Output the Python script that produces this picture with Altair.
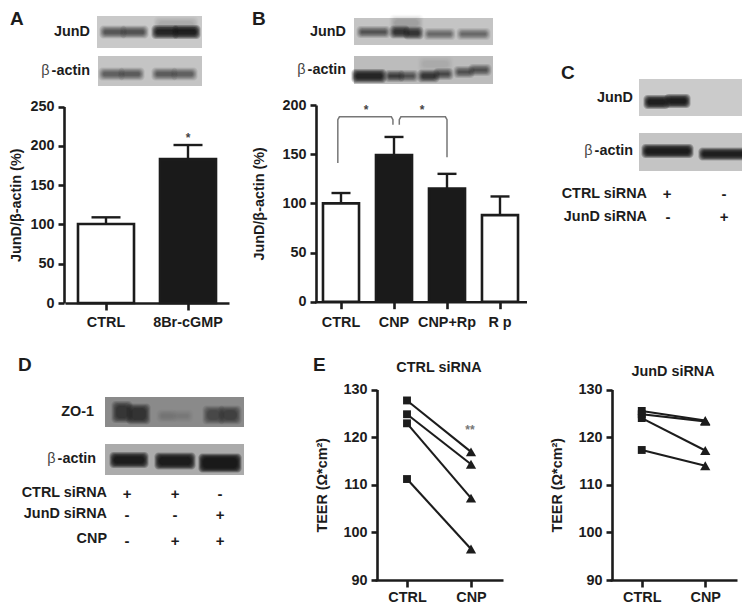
import altair as alt
import pandas as pd

FONT = "Liberation Sans"
INK = "#1c1c1c"
M = 8  # page margin: image pixels -> chart pixels
W, H = 734, 597

# ---------- data ----------
A_CATS = ["CTRL", "8Br-cGMP"]
A_MEAN = [100.5, 183]
A_UPPER = [109, 201]
B_CATS = ["CTRL", "CNP", "CNP+Rp", "R p"]
B_MEAN = [100, 149, 115, 88]
B_UPPER = [110.5, 167.5, 130, 107]
BRACKET_L_X = [0.44, 0.44, 0.47, 1.45, 1.48, 1.48]
BRACKET_L_Y = [141, 185, 188, 188, 185, 180]
BRACKET_R_X = [1.60, 1.60, 1.63, 2.47, 2.50, 2.50]
BRACKET_R_Y = [180, 185, 188, 188, 185, 147]
E_CATS = ["CTRL", "CNP"]
E_CTRL_BEFORE = [127.7, 124.8, 122.9, 111.2]
E_CTRL_AFTER = [116.9, 114.3, 107.2, 96.5]
E_JUND_BEFORE = [125.5, 124.8, 124.0, 117.3]
E_JUND_AFTER = [123.5, 123.3, 117.2, 114.0]

# gel bands: start, end, centre, thickness, density (gel units = lane pixels)
A_JUND = [(6, 26, 16, 6, .62), (27, 48, 16, 6, .64), (58, 78, 16, 7, .86), (79, 100, 16, 7, .90), (60, 98, 9, 10, .12)]
A_ACTIN = [(4, 23, 18, 6, .52), (24, 43, 18, 6, .55), (57, 76, 18, 6, .55), (77, 96, 18, 6, .52)]
B_JUND = [(6, 33, 14, 5, .62), (39, 52, 14, 6, .80), (53, 66, 15, 6, .80), (39, 66, 5, 10, .15), (73, 98, 16, 5, .48), (106, 133, 16, 5, .48)]
B_ACTIN = [(1, 29, 20, 7, .88), (34, 47, 20, 5, .72), (48, 61, 20, 5, .62), (67, 82, 20, 6, .76), (83, 96, 18, 5, .66), (103, 117, 16, 5, .62), (118, 134, 14, 5, .62), (67, 96, 8, 9, .08)]
C_JUND = [(8, 27, 23, 7, .92), (29, 48, 22, 7, .92)]
C_ACTIN = [(6, 51, 18, 7, .94), (63, 105, 21, 6, .92)]
D_ZO1 = [(10, 24, 15, 15, .68), (25, 42, 17, 14, .70), (55, 69, 19, 6, .12), (71, 85, 19, 6, .10), (101, 116, 18, 12, .50), (117, 133, 18, 12, .55)]
D_ACTIN = [(8, 40, 16, 9, .92), (53, 87, 17, 10, .92), (97, 133, 19, 12, .95)]


def text(s, x, y, size=14.4, weight="bold", align="left", color=INK, angle=0, font=FONT):
    return alt.Chart(alt.Data(values=[{"a": 1}])).mark_text(
        font=font, fontSize=size, fontWeight=weight, align=align, baseline="middle",
        color=color, angle=angle,
    ).encode(x=alt.value(x - M), y=alt.value(y - M), text=alt.value(s))


def beta_label(x_right, y):
    return [text("-actin", x_right, y, align="right"),
            text("β", x_right - 40.5, y, align="right", weight="normal", color="#444444")]


def blot(x0, x1, y0, y1, bg, bands):
    w, h = x1 - x0, y1 - y0
    rows = []
    steps = [3.6, 2.8, 2.1, 1.5, 0.9, 0.3, -0.3, -0.9, -1.5]
    for s, e, c, t, d in bands:
        a = 1 - (1 - d) ** (1 / len(steps))
        for g in steps:
            hh = max(t / 2 + g, 0.6)
            rows.append({"x": s - g, "x2": e + g, "y": c - hh, "y2": c + hh, "a": a})
    xs = alt.Scale(domain=[0, w], range=[x0 - M, x1 - M], nice=False, zero=False)
    ys = alt.Scale(domain=[0, h], range=[y0 - M, y1 - M], nice=False, zero=False)
    back = alt.Chart(alt.Data(values=[{"x": 0, "x2": w, "y": 0, "y2": h}])).mark_rect(color=bg).encode(
        x=alt.X("x:Q", scale=xs, axis=None), x2="x2:Q",
        y=alt.Y("y:Q", scale=ys, axis=None), y2="y2:Q")
    ink = alt.Chart(alt.Data(values=rows)).mark_rect(color="#111111", cornerRadius=4).encode(
        x=alt.X("x:Q", scale=xs, axis=None), x2="x2:Q",
        y=alt.Y("y:Q", scale=ys, axis=None), y2="y2:Q",
        opacity=alt.Opacity("a:Q", scale=None))
    return alt.layer(back, ink)


def y_axis(xpx, values, title, title_pad):
    return alt.Axis(orient="left", offset=-(xpx - M), values=values, title=title, grid=False,
                    domainColor=INK, domainWidth=2.6, tickColor=INK, tickWidth=2.6, tickSize=6,
                    labelFont=FONT, labelFontSize=14.4, labelFontWeight="bold", labelColor=INK,
                    labelPadding=4, titleFont=FONT, titleFontSize=14.4, titleFontWeight="bold",
                    titleColor=INK, titlePadding=title_pad)


def x_axis(ypx, label_pad=7):
    return alt.Axis(orient="bottom", offset=ypx - M - H, title=None, grid=False, labelAngle=0,
                    domainColor=INK, domainWidth=2.6, tickColor=INK, tickWidth=2.6, tickSize=7,
                    labelFont=FONT, labelFontSize=14.4, labelFontWeight="bold", labelColor=INK,
                    labelPadding=label_pad, labelOverlap=False)


def bars(cats, mean, upper, fills, xa, xb, ya, yb, top, ticks, xaxis_px, cap, inner, label_pad):
    df = pd.DataFrame({"c": cats, "m": mean, "u": upper, "f": fills})
    xs = alt.Scale(domain=cats, range=[xa - M, xb - M], paddingInner=inner, paddingOuter=inner / 2)
    ys = alt.Scale(domain=[0, top], range=[ya - M, yb - M], nice=False)
    xe = alt.X("c:N", scale=xs, sort=None, axis=x_axis(xaxis_px, label_pad))
    yax = y_axis(ticks[0], ticks[1], "JunD/β-actin (%)", ticks[2])
    stem = alt.Chart(df).mark_rule(color=INK, strokeWidth=2.4).encode(
        x=xe, y=alt.Y("m:Q", scale=ys, axis=yax), y2="u:Q")
    tick = alt.Chart(df).mark_tick(color=INK, size=cap, thickness=2.4, opacity=1).encode(
        x=xe, y=alt.Y("u:Q", scale=ys, axis=yax))
    bar = alt.Chart(df).mark_bar(stroke=INK, strokeWidth=2.6).encode(
        x=xe, y=alt.Y("m:Q", scale=ys, axis=yax),
        fill=alt.Fill("f:N", scale=None))
    return alt.layer(stem, tick, bar)


def teer(before, after, xa, xb, title_pad, xaxis_px=580):
    rows = []
    for i, (p, q) in enumerate(zip(before, after)):
        rows.append({"s": i, "c": E_CATS[0], "v": p})
        rows.append({"s": i, "c": E_CATS[1], "v": q})
    df = pd.DataFrame(rows)
    xs = alt.Scale(type="point", domain=E_CATS, range=[xa - M, xb - M], padding=0.5)
    ys = alt.Scale(domain=[90, 130], range=[580 - M, 389.5 - M], nice=False, zero=False)
    xe = alt.X("c:N", scale=xs, sort=None, axis=x_axis(xaxis_px, 3))
    ye = alt.Y("v:Q", scale=ys, axis=y_axis(xa + 2, [90, 100, 110, 120, 130], "TEER (Ω*cm²)", title_pad))
    line = alt.Chart(df).mark_line(color=INK, strokeWidth=2.1).encode(x=xe, y=ye, detail="s:N")
    sq = alt.Chart(df[df.c == E_CATS[0]]).mark_point(shape="square", filled=True, size=62, color=INK, opacity=1).encode(x=xe, y=ye)
    tri = alt.Chart(df[df.c == E_CATS[1]]).mark_point(shape="triangle-up", filled=True, size=105, color=INK, opacity=1).encode(x=xe, y=ye)
    return alt.layer(line, sq, tri)


def bracket(xvals, yvals):
    df = pd.DataFrame({"x": xvals, "y": yvals, "o": range(len(xvals))})
    return alt.Chart(df).mark_line(color="#777777", strokeWidth=1.5).encode(
        x=alt.X("x:Q", scale=alt.Scale(domain=[0, 4], range=[314.5 - M, 526.5 - M], nice=False, zero=False), axis=None),
        y=alt.Y("y:Q", scale=alt.Scale(domain=[0, 200], range=[301.7 - M, 105 - M], nice=False), axis=None),
        order="o:Q")


def signs(marks, xs, y):
    return [text(m, x, y, align="center", size=15) for m, x in zip(marks, xs)]


layers = [
    blot(97, 202, 16, 48, "#c9c9c9", A_JUND),
    blot(98, 202, 56, 86, "#c4c4c4", A_ACTIN),
    blot(354, 493, 18, 45, "#c4c4c4", B_JUND),
    blot(354, 493, 56, 84, "#bcbcbc", B_ACTIN),
    blot(639, 750, 79, 116, "#cbcbcb", C_JUND),
    blot(639, 750, 133, 171, "#c4c4c4", C_ACTIN),
    blot(105, 244, 397, 427, "#8a8a8a", D_ZO1),
    blot(105, 244, 444, 475, "#ababab", D_ACTIN),
    bars(A_CATS, A_MEAN, A_UPPER, ["white", "#1a1a1a"], 65, 229, 303, 106.5, 250,
         (64, [0, 50, 100, 150, 200, 250], 6), 303, 29, 0.317, 5),
    bars(B_CATS, B_MEAN, B_UPPER, ["white", "#1a1a1a", "#1a1a1a", "white"], 314.5, 526.5, 301.7, 105, 200,
         (316, [0, 50, 100, 150, 200], 15), 301.7, 19, 0.32, 7),
    bracket(BRACKET_L_X, BRACKET_L_Y),
    bracket(BRACKET_R_X, BRACKET_R_Y),
    teer(E_CTRL_BEFORE, E_CTRL_AFTER, 375, 503, 13),
    teer(E_JUND_BEFORE, E_JUND_AFTER, 610, 737, 13),
    text("A", 10, 19, size=19),
    text("B", 252, 19, size=19),
    text("C", 561, 73, size=19),
    text("D", 18, 365, size=19),
    text("E", 313, 365, size=19),
    text("JunD", 90, 32, align="right"),
    *beta_label(90, 71),
    text("JunD", 346, 32, align="right"),
    *beta_label(346, 70),
    text("JunD", 633, 98, align="right"),
    *beta_label(633, 151),
    text("ZO-1", 94, 412, align="right"),
    *beta_label(96, 459),
    text("*", 188, 138, size=12, align="center", color="#444444"),
    text("*", 366, 110, size=12, align="center", color="#444444"),
    text("*", 422, 110, size=12, align="center", color="#444444"),
    text("**", 470, 430, size=12, align="center", color="#777777"),
    text("CTRL siRNA", 647, 194, align="right"),
    text("JunD siRNA", 647, 217, align="right"),
    *signs(["+", "-"], [667, 724], 194),
    *signs(["-", "+"], [668, 724], 217),
    text("CTRL siRNA", 107, 493, align="right"),
    text("JunD siRNA", 107, 514, align="right"),
    text("CNP", 107, 539, align="right"),
    *signs(["+", "+", "-"], [127, 175, 220], 494),
    *signs(["-", "-", "+"], [127, 175, 220], 515),
    *signs(["-", "+", "+"], [127, 175, 220], 541),
    text("CTRL siRNA", 439, 368, align="center"),
    text("JunD siRNA", 673, 372, align="center"),
]

chart = alt.layer(*layers).resolve_scale(x="independent", y="independent", opacity="independent").resolve_axis(
    x="independent", y="independent"
).properties(
    width=W, height=H, padding=0, autosize=alt.AutoSizeParams(type="none"), background="white"
).configure_view(stroke=None)

chart.save("out.html", embed_options={"renderer": "svg", "actions": False})
